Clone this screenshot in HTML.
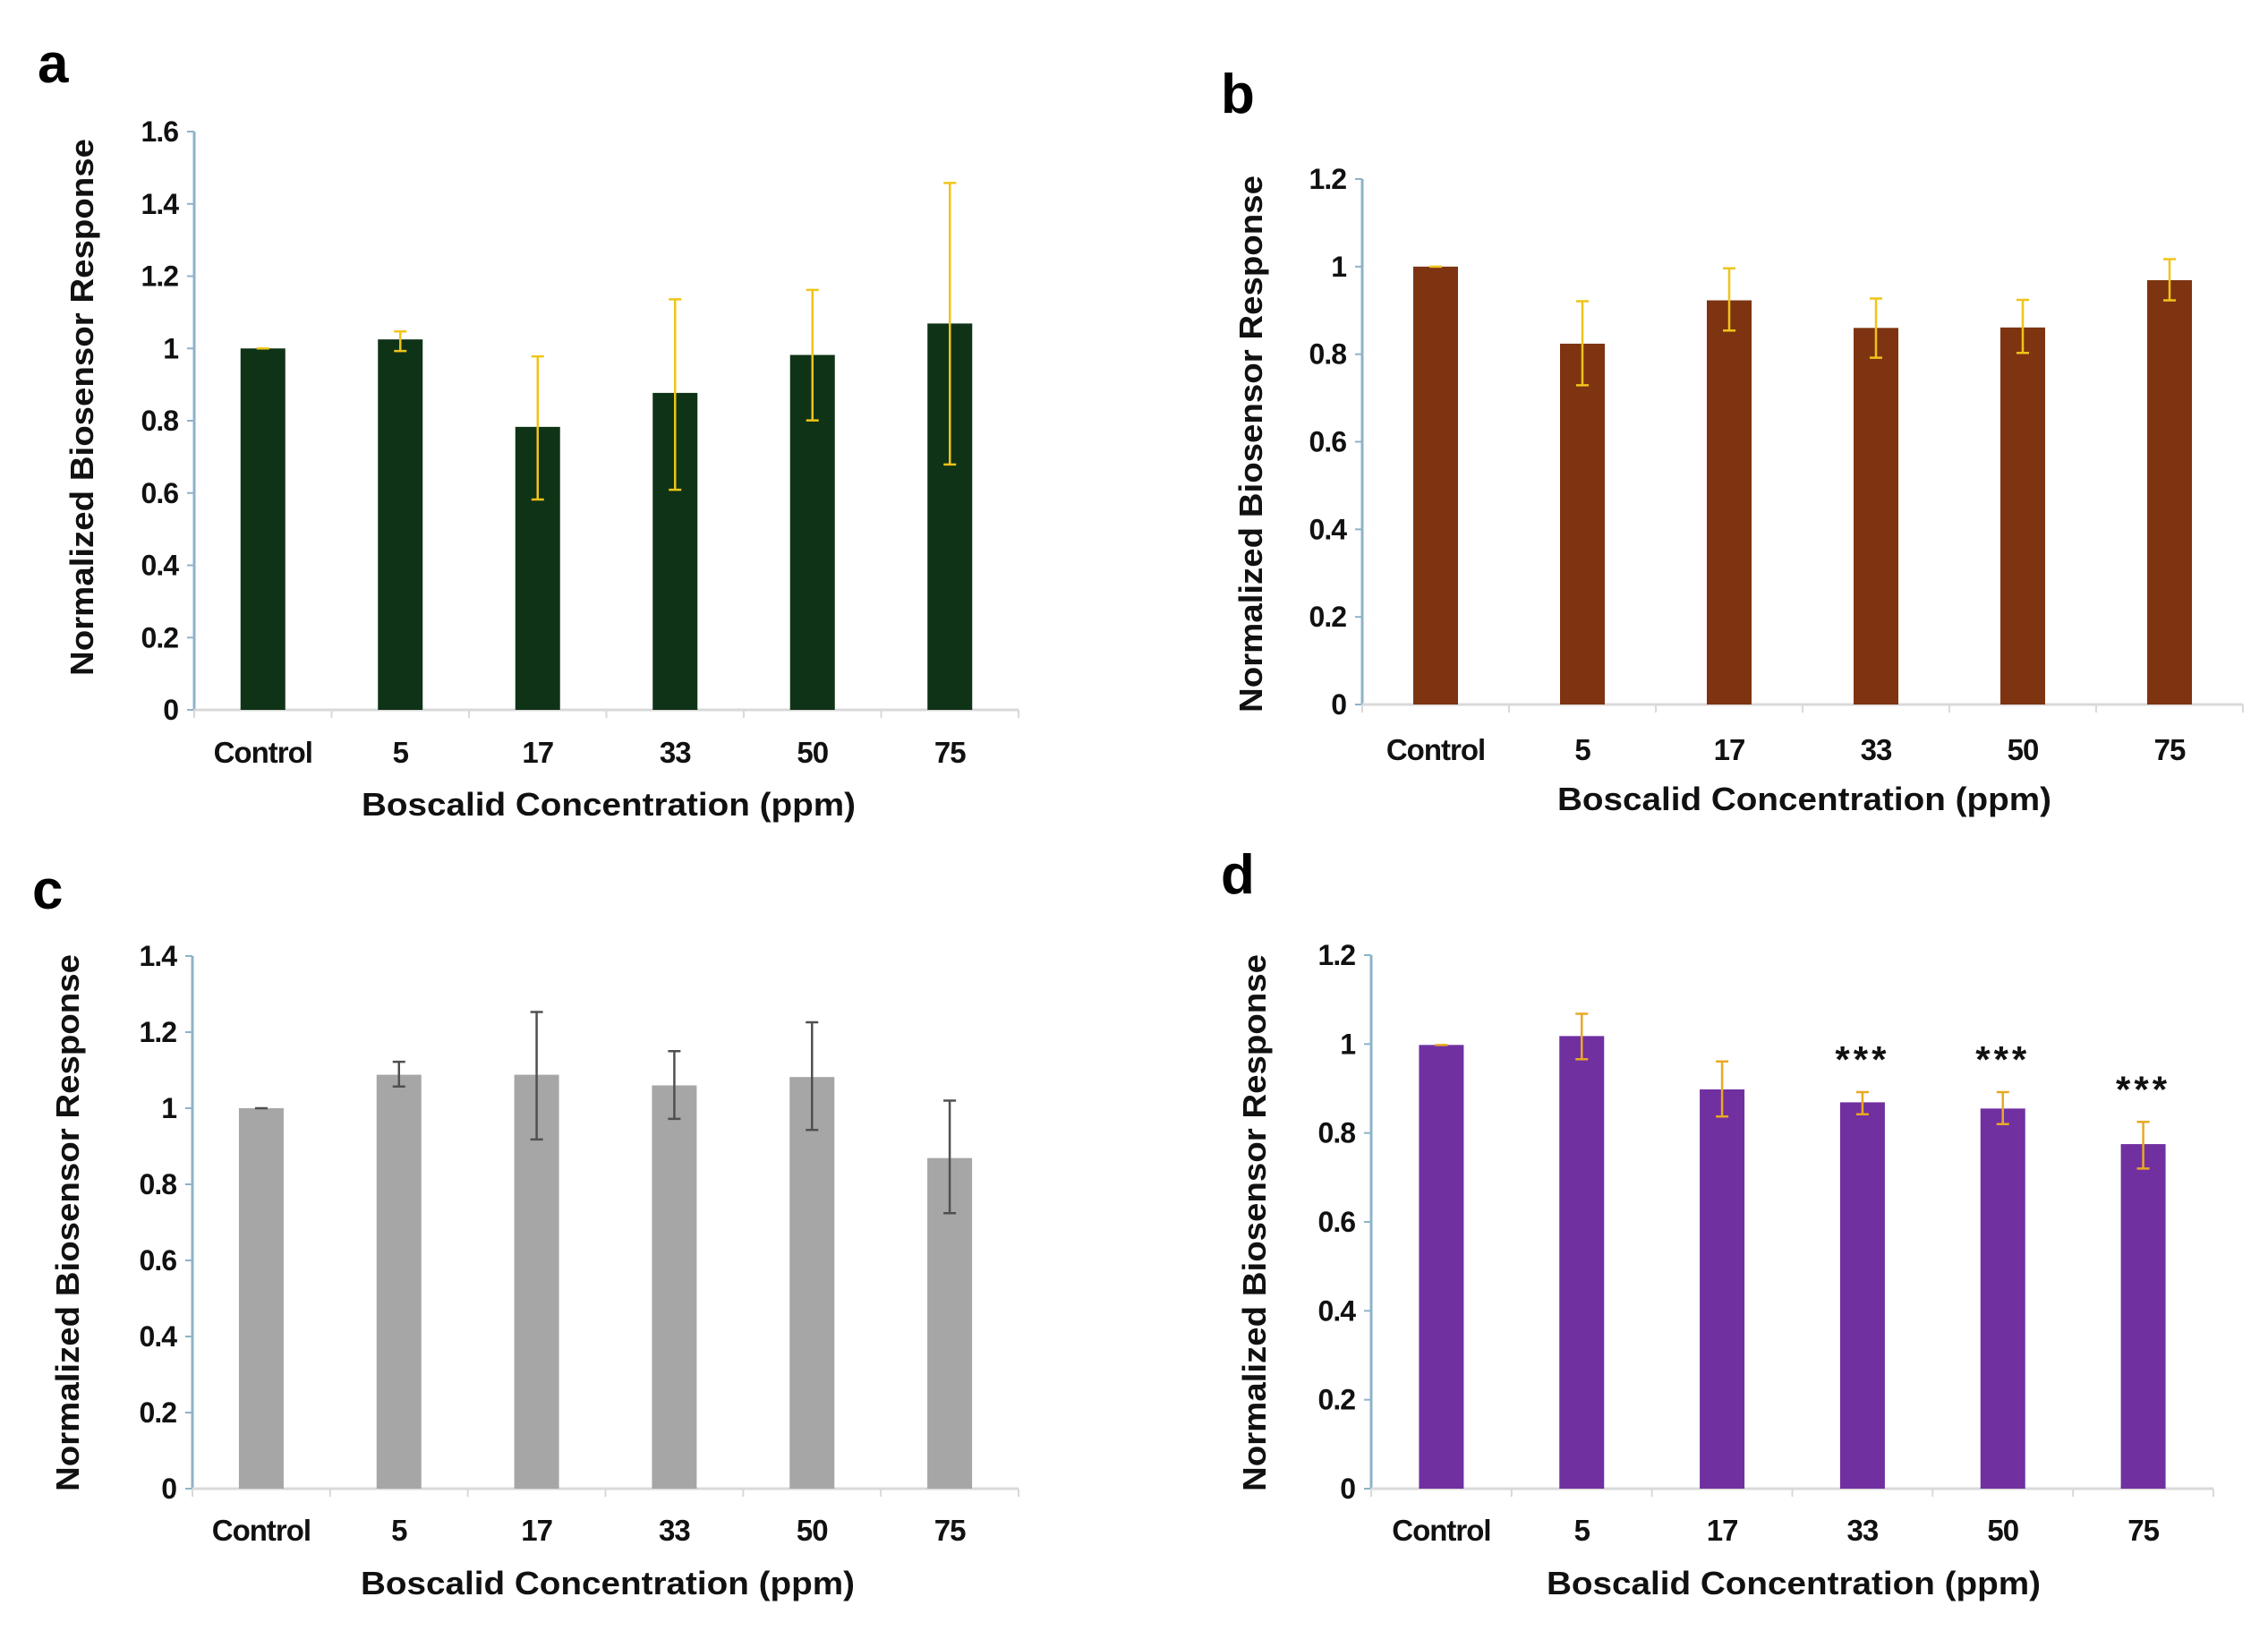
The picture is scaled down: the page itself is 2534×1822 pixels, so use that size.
<!DOCTYPE html>
<html><head><meta charset="utf-8"><style>
html,body{margin:0;padding:0;background:#fff;}
svg{display:block;font-family:"Liberation Sans",Arial,sans-serif;}
</style></head><body>
<svg id="fig" width="2534" height="1822" viewBox="0 0 2534 1822">
<text x="42" y="92" font-size="62" font-weight="bold">a</text>
<text x="1364" y="126" font-size="62" font-weight="bold">b</text>
<text x="36" y="1015" font-size="62" font-weight="bold">c</text>
<text x="1364" y="998" font-size="62" font-weight="bold">d</text>
</svg>
<script>
const categories = ["Control","5","17","33","50","75"];
const aValues = [1.0, 1.025, 0.783, 0.877, 0.982, 1.069];
const aErrLow = [1.0, 0.993, 0.582, 0.609, 0.801, 0.679];
const aErrHigh = [1.0, 1.047, 0.978, 1.136, 1.162, 1.458];
const aTicks = ["0","0.2","0.4","0.6","0.8","1","1.2","1.4","1.6"];
const bValues = [1.0, 0.824, 0.923, 0.860, 0.861, 0.969];
const bErrLow = [1.0, 0.729, 0.854, 0.792, 0.803, 0.923];
const bErrHigh = [1.0, 0.921, 0.996, 0.927, 0.924, 1.017];
const bTicks = ["0","0.2","0.4","0.6","0.8","1","1.2"];
const cValues = [1.0, 1.088, 1.088, 1.060, 1.082, 0.869];
const cErrLow = [1.0, 1.057, 0.918, 0.972, 0.943, 0.724];
const cErrHigh = [1.0, 1.122, 1.253, 1.150, 1.226, 1.020];
const cTicks = ["0","0.2","0.4","0.6","0.8","1","1.2","1.4"];
const dValues = [0.998, 1.018, 0.898, 0.869, 0.855, 0.775];
const dErrLow = [0.998, 0.966, 0.837, 0.842, 0.820, 0.720];
const dErrHigh = [0.998, 1.068, 0.961, 0.892, 0.892, 0.825];
const dTicks = ["0","0.2","0.4","0.6","0.8","1","1.2"];
const dSignificance = ["","","","***","***","***"];

const NS = "http://www.w3.org/2000/svg";
const svg = document.getElementById("fig");
function mk(tag, attrs, parent){ const e=document.createElementNS(NS,tag); for(const k in attrs) e.setAttribute(k,attrs[k]); (parent||svg).appendChild(e); return e; }

function panel(id, cfg){
  const g = mk("g",{});
  
  
  const n = cfg.ticks.length - 1;
  const ymax = parseFloat(cfg.ticks[n]);
  const y = v => cfg.y0 - (v / ymax) * (cfg.y0 - cfg.yTop);
  const step = (cfg.xEnd - cfg.x0) / categories.length;
  const x = i => cfg.x0 + step * (i + 0.5);
  const ya = mk("line",{x1:cfg.x0,y1:cfg.yTop,x2:cfg.x0,y2:cfg.y0,stroke:"#8db3c9","stroke-width":3},g);
  
  
  cfg.ticks.forEach((t,i)=>{
    const v = parseFloat(t), yy = y(v);
    mk("line",{x1:cfg.x0-8,y1:yy,x2:cfg.x0,y2:yy,stroke:"#8db3c9","stroke-width":2},g);
    const tx = mk("text",{x:cfg.x0-18,y:yy+11,"font-size":32,"font-weight":"bold","text-anchor":"end",fill:"#111","letter-spacing":-1},g);
    tx.textContent = t;
    
    
  });
  const xa = mk("line",{x1:cfg.x0,y1:cfg.y0,x2:cfg.xEnd,y2:cfg.y0,stroke:"#d9d9d9","stroke-width":3},g);
  
  
  for(let i=0;i<=categories.length;i++){
    mk("line",{x1:cfg.x0+step*i,y1:cfg.y0,x2:cfg.x0+step*i,y2:cfg.y0+9,stroke:"#d9d9d9","stroke-width":2},g);
  }
  categories.forEach((c,i)=>{
    const r = mk("rect",{x:x(i)-25,y:y(cfg.values[i]),width:50,height:cfg.y0-y(cfg.values[i]),fill:cfg.color},g);
    
    
    const lo=y(cfg.low[i]), hi=y(cfg.high[i]);
    const eb = mk("path",{d:`M${x(i)} ${hi}V${lo}M${x(i)-7} ${hi}H${x(i)+7}M${x(i)-7} ${lo}H${x(i)+7}`,stroke:cfg.err,"stroke-width":2.5,fill:"none"},g);
    
    
    const lb = mk("text",{x:x(i),y:cfg.catY,"font-size":33,"font-weight":"bold","text-anchor":"middle",fill:"#111","letter-spacing":-1},g);
    lb.textContent = c;
    
    
    if(cfg.sig && cfg.sig[i]){
      const s = mk("text",{x:x(i),y:y(cfg.high[i])-22,"font-size":42,"font-weight":"bold","text-anchor":"middle",fill:"#111","letter-spacing":4},g);
      s.textContent = cfg.sig[i];
      
      
    }
  });
  const xt = mk("text",{x:cfg.titleX,y:cfg.titleY,"font-size":36,"font-weight":"bold","text-anchor":"middle",fill:"#111",textLength:552,lengthAdjust:"spacingAndGlyphs"},g);
  xt.textContent = "Boscalid Concentration (ppm)";
  
  
  const yt = mk("text",{x:0,y:0,"font-size":36,"font-weight":"bold","text-anchor":"middle",fill:"#111",textLength:600,lengthAdjust:"spacingAndGlyphs",transform:`translate(${cfg.ytX},${cfg.ytY}) rotate(-90)`},g);
  yt.textContent = "Normalized Biosensor Response";
  
  
}

panel("a",{x0:217,xEnd:1138,yTop:147,y0:793,ticks:aTicks,values:aValues,low:aErrLow,high:aErrHigh,color:"#0f3316",err:"#f0c419",catY:852,titleX:680,titleY:911,ytX:104,ytY:455});
panel("b",{x0:1522,xEnd:2506,yTop:200,y0:787,ticks:bTicks,values:bValues,low:bErrLow,high:bErrHigh,color:"#7e3411",err:"#f0c419",catY:849,titleX:2016,titleY:905,ytX:1410,ytY:496});
panel("c",{x0:215,xEnd:1138,yTop:1068,y0:1663,ticks:cTicks,values:cValues,low:cErrLow,high:cErrHigh,color:"#a6a6a6",err:"#505050",catY:1721,titleX:679,titleY:1781,ytX:88,ytY:1366});
panel("d",{x0:1532,xEnd:2473,yTop:1067,y0:1663,ticks:dTicks,values:dValues,low:dErrLow,high:dErrHigh,color:"#7030a0",err:"#e8a923",catY:1721,titleX:2004,titleY:1781,ytX:1414,ytY:1366,sig:dSignificance});
</script>
</body></html>
